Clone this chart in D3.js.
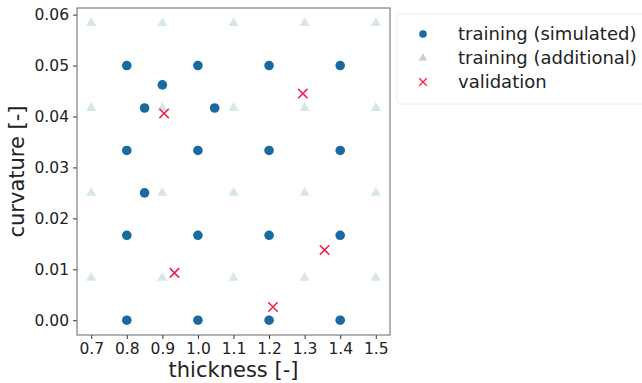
<!DOCTYPE html>
<html>
<head>
<meta charset="utf-8">
<script src="https://cdn.jsdelivr.net/npm/d3@7"></script>
<style>
  body { margin: 0; background: #fff; }
  text { font-family: "DejaVu Sans", sans-serif; }
</style>
</head>
<body>
<svg id="chart"></svg>
<script>
// Data: [thickness, curvature]
const simulated = [
  [0.8, 0], [1.0, 0], [1.2, 0], [1.4, 0],
  [0.8, 0.01667], [1.0, 0.01667], [1.2, 0.01667], [1.4, 0.01667],
  [0.8, 0.03333], [1.0, 0.03333], [1.2, 0.03333], [1.4, 0.03333],
  [0.8, 0.05], [1.0, 0.05], [1.2, 0.05], [1.4, 0.05],
  [0.9, 0.0462], [0.85, 0.04167], [1.047, 0.04167], [0.85, 0.025]
];
const additionalX = [0.7, 0.9, 1.1, 1.3, 1.5];
const additionalY = [0.00833, 0.025, 0.04167, 0.05833];
const validation = [
  [0.905, 0.0406], [1.295, 0.0445], [0.934, 0.0093], [1.356, 0.0138], [1.211, 0.0026]
];
const xTicks = [0.7, 0.8, 0.9, 1.0, 1.1, 1.2, 1.3, 1.4, 1.5];
const yTicks = [0, 0.01, 0.02, 0.03, 0.04, 0.05, 0.06];
const legendLabels = ['training (simulated)', 'training (additional)', 'validation'];

const additional = [];
additionalY.forEach(y => additionalX.forEach(x => additional.push([x, y])));

const W = 642, H = 383;
const margin = { top: 8, left: 77, right: 252, bottom: 48 };
const width = W - margin.left - margin.right;
const height = H - margin.top - margin.bottom;

const svg = d3.select('#chart').attr('width', W).attr('height', H);
const g = svg.append('g')
    .attr('transform', 'translate(' + margin.left + ',' + margin.top + ')');

const x = d3.scaleLinear().domain([0.66, 1.54]).range([0, width]);
const y = d3.scaleLinear().domain([-0.0029, 0.0613]).range([height, 0]);

// axes
const xAxis = d3.axisBottom(x).tickValues(xTicks).tickFormat(d3.format('.1f')).tickSize(4).tickPadding(4);
const yAxis = d3.axisLeft(y).tickValues(yTicks).tickFormat(d3.format('.2f')).tickSize(4).tickPadding(4);

const gx = g.append('g').attr('transform', 'translate(0,' + height + ')').call(xAxis);
const gy = g.append('g').call(yAxis);
[gx, gy].forEach(a => {
  a.select('.domain').remove();
  a.selectAll('line').attr('stroke', '#333');
  a.selectAll('text').attr('fill', '#222').style('font-size', '15.5px');
});

// frame
g.append('rect')
    .attr('width', width).attr('height', height)
    .attr('fill', 'none').attr('stroke', '#666').attr('stroke-width', 1);

const tri = d3.symbol().type(d3.symbolTriangle).size(45);
const cross = d3.symbol().type(d3.symbolX).size(60);

// additional training points (faint)
g.selectAll('.add')
    .data(additional)
  .enter().append('path')
    .attr('class', 'add')
    .attr('d', tri)
    .attr('transform', d => 'translate(' + x(d[0]) + ',' + y(d[1]) + ')')
    .attr('fill', '#9cc6bb')
    .attr('opacity', 0.4);

// simulated training points
g.selectAll('.sim')
    .data(simulated)
  .enter().append('circle')
    .attr('class', 'sim')
    .attr('cx', d => x(d[0]))
    .attr('cy', d => y(d[1]))
    .attr('r', 4.8)
    .attr('fill', '#1a6aa2');

// validation points
g.selectAll('.val')
    .data(validation)
  .enter().append('path')
    .attr('class', 'val')
    .attr('d', cross)
    .attr('transform', d => 'translate(' + x(d[0]) + ',' + y(d[1]) + ')')
    .attr('fill', 'none')
    .attr('stroke', '#f5224d')
    .attr('stroke-width', 1.6);

// axis labels
svg.append('text')
    .attr('x', margin.left + width / 2)
    .attr('y', H - 6)
    .attr('text-anchor', 'middle')
    .style('font-size', '21px')
    .attr('fill', '#222')
    .text('thickness [-]');

svg.append('text')
    .attr('transform', 'translate(24,' + (margin.top + height / 2) + ') rotate(-90)')
    .attr('text-anchor', 'middle')
    .style('font-size', '21px')
    .attr('fill', '#222')
    .text('curvature [-]');

// legend
const lg = svg.append('g').attr('transform', 'translate(397,14)');
lg.append('rect')
    .attr('width', 270).attr('height', 90).attr('rx', 3)
    .attr('fill', '#fff').attr('stroke', '#ececec');

const rows = lg.selectAll('.row')
    .data(legendLabels)
  .enter().append('g')
    .attr('transform', (d, i) => 'translate(26,' + (20 + i * 24) + ')');

rows.each(function(d, i) {
  const r = d3.select(this);
  if (i === 0) r.append('circle').attr('r', 3.8).attr('fill', '#1a6aa2');
  if (i === 1) r.append('path').attr('d', d3.symbol().type(d3.symbolTriangle).size(30)).attr('fill', '#c8cccc');
  if (i === 2) r.append('path').attr('d', d3.symbol().type(d3.symbolX).size(38))
      .attr('fill', 'none').attr('stroke', '#f5224d').attr('stroke-width', 1.3);
});

rows.append('text')
    .attr('x', 35)
    .attr('dy', '0.35em')
    .style('font-size', '18px')
    .attr('fill', '#222')
    .text(d => d);
</script>
</body>
</html>
